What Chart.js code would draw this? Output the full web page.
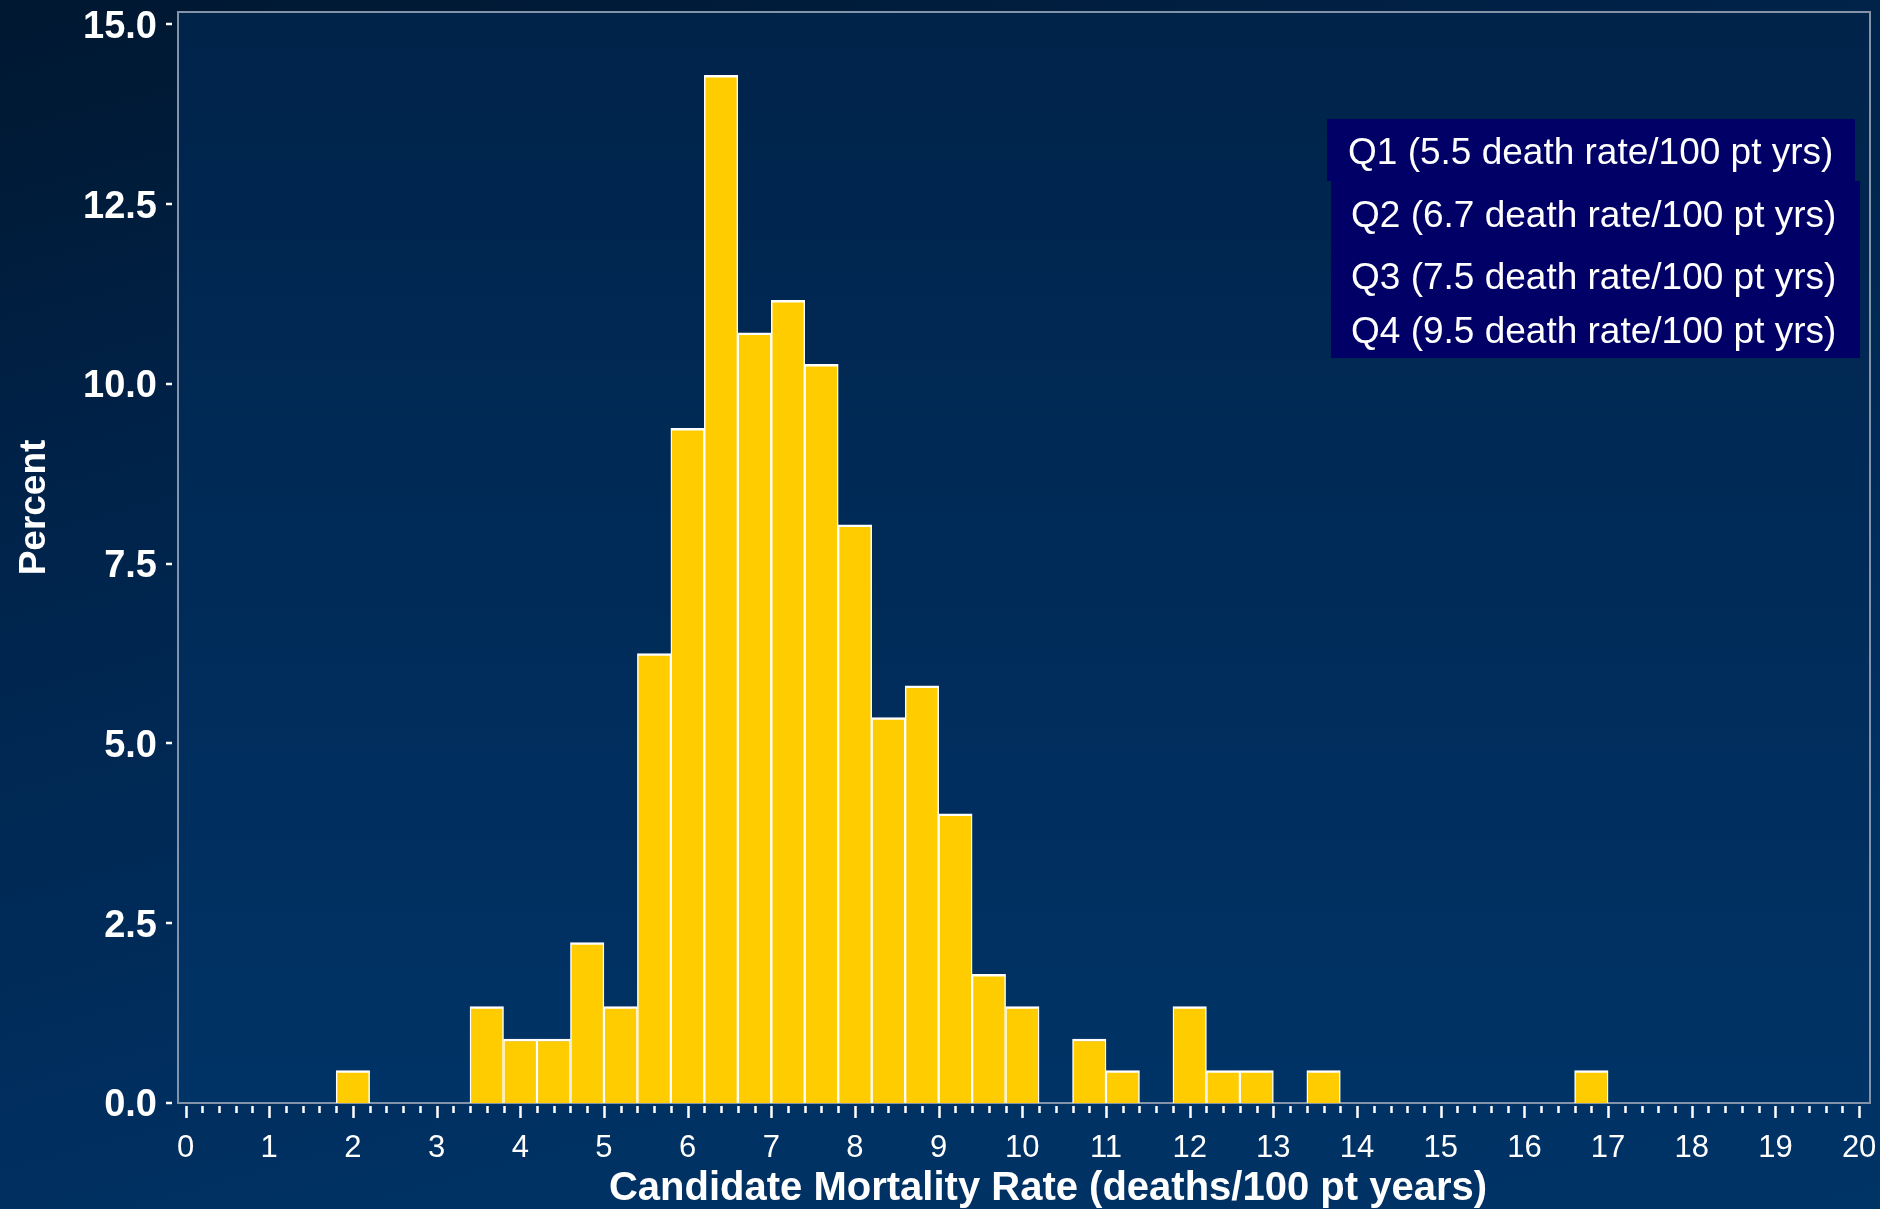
<!DOCTYPE html>
<html>
<head>
<meta charset="utf-8">
<title>Candidate Mortality Rate</title>
<script src="https://cdn.jsdelivr.net/npm/chart.js@4.4.1/dist/chart.umd.min.js"></script>
<style>
    html, body { margin: 0; padding: 0; }
    body {
        width: 1880px;
        height: 1209px;
        overflow: hidden;
        background: linear-gradient(165deg, #001730 0%, #00234a 30%, #003163 75%, #003366 100%);
    }
    canvas { display: block; }
</style>
</head>
<body>
<canvas id="chart-1" width="1880" height="1209"></canvas>
<script>
// histogram bins, 0.4 wide, centre of each non-empty bin
var binCenters = [2.0, 3.6, 4.0, 4.4, 4.8, 5.2, 5.6, 6.0, 6.4, 6.8, 7.2, 7.6, 8.0,
    8.4, 8.8, 9.2, 9.6, 10.0, 10.8, 11.2, 12.0, 12.4, 12.8, 13.6, 16.8];
var percents = [0.45, 1.34, 0.89, 0.89, 2.23, 1.34, 6.25, 9.38, 14.29, 10.71, 11.16, 10.27, 8.04,
    5.36, 5.80, 4.02, 1.79, 1.34, 0.89, 0.45, 1.34, 0.45, 0.45, 0.45, 0.45];

var xTickValues = [0, 1, 2, 3, 4, 5, 6, 7, 8, 9, 10, 11, 12, 13, 14, 15, 16, 17, 18, 19, 20];
var yTickValues = [0, 2.5, 5, 7.5, 10, 12.5, 15];

var quartileLabels = [
    'Q1 (5.5 death rate/100 pt yrs)',
    'Q2 (6.7 death rate/100 pt yrs)',
    'Q3 (7.5 death rate/100 pt yrs)',
    'Q4 (9.5 death rate/100 pt yrs)'
];
var xTitle = 'Candidate Mortality Rate (deaths/100 pt years)';
var yTitle = 'Percent';

var fontFamily = '"Liberation Sans", Arial, sans-serif';

var points = [];
binCenters.forEach(function (c, i) {
    points.push({ x: c, y: percents[i] });
});

var framePlugin = {
    id: 'frame',
    beforeDraw: function (chart) {
        var a = chart.chartArea, ctx = chart.ctx;
        var g = ctx.createLinearGradient(0, a.top, 0, a.bottom);
        g.addColorStop(0, '#00234a');
        g.addColorStop(1, '#003366');
        ctx.save();
        ctx.fillStyle = g;
        ctx.fillRect(a.left, a.top, a.right - a.left, a.bottom - a.top);
        ctx.restore();
    },
    beforeDatasetsDraw: function (chart) {
        var a = chart.chartArea, ctx = chart.ctx;
        ctx.save();
        ctx.strokeStyle = '#8393aa';
        ctx.lineWidth = 2;
        ctx.strokeRect(a.left, a.top, a.right - a.left, a.bottom - a.top);
        ctx.restore();
    },
    afterDraw: function (chart) {
        var a = chart.chartArea, ctx = chart.ctx;
        var xs = chart.scales.x, ys = chart.scales.y;
        ctx.save();
        ctx.strokeStyle = '#ffffff';
        ctx.lineWidth = 2.5;

        // x ticks: long at integers, short every 0.2
        ctx.beginPath();
        for (var i = 0; i <= 100; i++) {
            var px = Math.round(xs.getPixelForValue(i / 5)) + 0.5;
            ctx.moveTo(px, a.bottom + 3);
            ctx.lineTo(px, a.bottom + (i % 5 === 0 ? 15 : 10));
        }
        // y ticks, set off a little from the frame
        ys.ticks.forEach(function (t) {
            var py = Math.round(ys.getPixelForValue(t.value));
            ctx.moveTo(a.left - 12, py);
            ctx.lineTo(a.left - 6, py);
        });
        ctx.stroke();

        // axis titles
        ctx.fillStyle = '#ffffff';
        ctx.textAlign = 'center';
        ctx.textBaseline = 'alphabetic';
        ctx.font = 'bold 40px ' + fontFamily;
        ctx.fillText(xTitle, (a.left + a.right) / 2 + 24, a.bottom + 97);
        ctx.font = 'bold 37px ' + fontFamily;
        ctx.translate(a.left - 133, (a.top + a.bottom) / 2 - 50);
        ctx.rotate(-Math.PI / 2);
        ctx.fillText(yTitle, 0, 0);
        ctx.restore();

        // quartile box
        ctx.save();
        ctx.fillStyle = '#000066';
        ctx.fillRect(a.right - 543, a.top + 107, 528, 62);
        ctx.fillRect(a.right - 539, a.top + 169, 529, 177);
        ctx.fillStyle = '#ffffff';
        ctx.font = '37px ' + fontFamily;
        ctx.textAlign = 'left';
        ctx.textBaseline = 'middle';
        var rowY = [142, 205, 267, 321];
        quartileLabels.forEach(function (txt, k) {
            ctx.fillText(txt, a.right - (k === 0 ? 522 : 519), a.top + rowY[k]);
        });
        ctx.restore();
    }
};

new Chart('chart-1', {
    type: 'bar',
    data: {
        datasets: [{
            data: points,
            backgroundColor: '#ffcc00',
            borderColor: '#ffffff',
            borderWidth: { top: 2.5, left: 1.5, right: 1.5, bottom: 0 },
            barPercentage: 1,
            categoryPercentage: 1
        }]
    },
    options: {
        responsive: false,
        animation: false,
        layout: { padding: { top: 12, right: 10, left: 0, bottom: 0 } },
        plugins: {
            legend: { display: false },
            tooltip: { enabled: false }
        },
        scales: {
            x: {
                type: 'linear',
                min: -0.09,
                max: 20.13,
                offset: false,
                grid: { display: false, drawTicks: false },
                border: { display: false },
                ticks: {
                    color: '#ffffff',
                    font: { family: fontFamily, size: 31 },
                    padding: 27,
                    maxRotation: 0,
                    autoSkip: false,
                    includeBounds: false
                },
                afterBuildTicks: function (scale) {
                    scale.ticks = xTickValues.map(function (v) { return { value: v }; });
                },
                afterFit: function (scale) {
                    scale.height = 106;
                    scale.paddingLeft = 0;
                    scale.paddingRight = 0;
                }
            },
            y: {
                min: 0,
                max: 15.17,
                grid: { display: false, drawTicks: false },
                border: { display: false },
                ticks: {
                    color: '#ffffff',
                    font: { family: fontFamily, size: 38, weight: 'bold' },
                    padding: 21,
                    labelOffset: 3,
                    includeBounds: false,
                    callback: function (v) { return Number(v).toFixed(1); }
                },
                afterBuildTicks: function (scale) {
                    scale.ticks = yTickValues.map(function (v) { return { value: v }; });
                },
                afterFit: function (scale) {
                    scale.width = 178;
                    scale.paddingTop = 0;
                    scale.paddingBottom = 0;
                }
            }
        }
    },
    plugins: [framePlugin]
});
</script>
</body>
</html>
